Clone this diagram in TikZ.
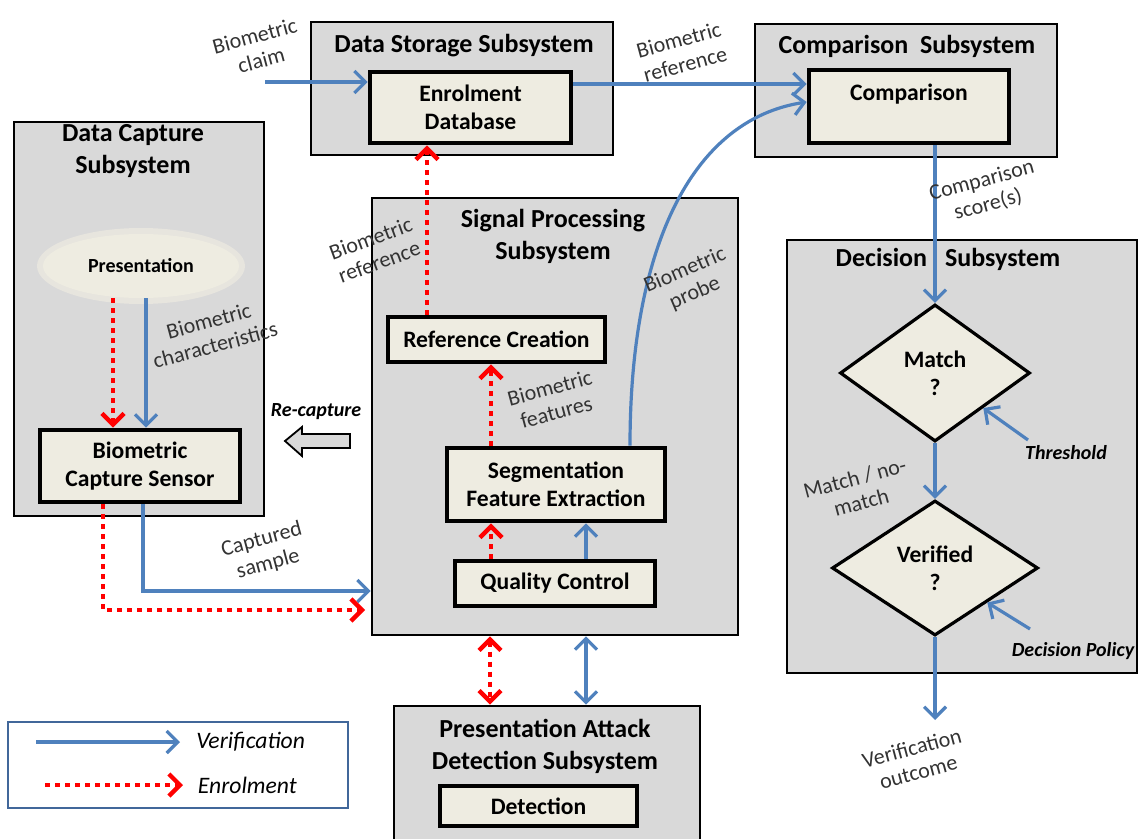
\documentclass[tikz,border=0pt]{standalone}
\usepackage{fontspec}
\setmainfont{Carlito}
\setsansfont{Carlito}
\usetikzlibrary{arrows.meta,shapes.geometric,positioning}

\definecolor{sysgray}{HTML}{D9D9D9}
\definecolor{boxbeige}{HTML}{EEECE1}
\definecolor{verblue}{HTML}{4F81BD}
\definecolor{legendframe}{HTML}{41679A}

\newcommand{\subsystem}[6]{
	\node[subsys, minimum width=#3, minimum height=#4] (#1) at (#2) {};
	\node[systitle] (#1title) at (#5) {#6};
}

\tikzset{
	barb/.tip={Straight Barb[length=5.5pt,width=11pt]},
	subsys/.style={draw=black, line width=1.3pt, fill=sysgray, inner sep=0pt},
	systitle/.style={font=\fontsize{13}{16}\selectfont\bfseries, align=center},
	unit/.style={draw=black, line width=2.4pt, fill=boxbeige, inner sep=0pt, font=\fontsize{11.8}{14}\selectfont\bfseries, align=center},
	decide/.style={diamond, draw=black, line width=1.6pt, fill=boxbeige, inner sep=0pt, font=\fontsize{11.8}{14}\selectfont\bfseries, align=center},
	ver/.style={draw=verblue, line width=1.6pt, -barb},
	enr/.style={draw=red, line width=2.2pt, dash pattern=on 2.5pt off 2.5pt, -barb},
	flowlbl/.style={font=\fontsize{11}{12.5}\selectfont, text=black!80, align=center, rotate=15, inner sep=0pt},
	cue/.style={font=\fontsize{10}{11}\selectfont\bfseries\itshape, inner sep=0pt},
}

\begin{document}
\begin{tikzpicture}[x=0.5pt,y=-0.5pt]
	\useasboundingbox (0,0) rectangle (1140,839);

	\subsystem{store}{462,88.5}{151pt}{66.5pt}{464,46}{Data Storage Subsystem}
	\subsystem{cmpsys}{906,90.5}{151pt}{66.5pt}{907,46}{Comparison\ \ Subsystem}
	\subsystem{capture}{139,319}{125pt}{197pt}{133,151}{Data Capture\\Subsystem}
	\subsystem{sigproc}{555,416.5}{183pt}{218.5pt}{553,236}{Signal Processing\\Subsystem}
	\subsystem{decision}{962,456.5}{175pt}{216.5pt}{948,259}{Decision\hspace{9pt}Subsystem}
	\subsystem{pad}{547,778}{153pt}{72pt}{545,746}{Presentation Attack\\Detection Subsystem}

	\node[unit, minimum width=100.5pt, minimum height=35.5pt] (enrol) at (470.5,107.5) {Enrolment\\Database};
	\node[unit, minimum width=100pt, minimum height=36.5pt] (cmpbox) at (909,106.5) {Comparison\\\mbox{}};
	\node[ellipse, fill=boxbeige!65!sysgray, minimum width=104pt, minimum height=38pt] (glow) at (141,266) {};
	\node[ellipse, fill=boxbeige, minimum width=98pt, minimum height=32pt, font=\fontsize{10}{12}\selectfont\bfseries] (pres) at (141,266) {Presentation};
	\node[unit, minimum width=100pt, minimum height=36pt] (sensor) at (140,466) {Biometric\\Capture Sensor};
	\node[unit, minimum width=108.5pt, minimum height=22.5pt] (refcr) at (496.5,339.5) {Reference Creation};
	\node[unit, minimum width=109pt, minimum height=36.5pt] (segfe) at (556,484.5) {Segmentation\\Feature Extraction};
	\node[unit, minimum width=100pt, minimum height=22.5pt] (qc) at (555,583.5) {Quality Control};
	\node[unit, minimum width=98.5pt, minimum height=20pt] (detect) at (538.5,806) {Detection};
	\node[decide, minimum width=95pt, minimum height=68.5pt] (match) at (935,373) {Match\\?};
	\node[decide, minimum width=103pt, minimum height=67.5pt] (verified) at (935,568) {Verified\\?};

	\coordinate (claim) at (265,82);
	\draw[ver] (claim) -- (claim -| enrol.west);
	\draw[ver] (enrol.east |- 0,84) -- (cmpbox.west |- 0,84);
	\draw[ver] (segfe.north -| 630,0) .. controls (630,250) and (690,120) .. (cmpbox.west |- 0,102);
	\draw[enr] (refcr.north -| 427,0) -- (enrol.south -| 427,0);
	\draw[enr] ([xshift=-14pt]pres.south) -- (sensor.north -| 113,0);
	\draw[ver] ([xshift=2.5pt]pres.south) -- (sensor.north -| 146,0);
	\draw[ver] (sensor.south -| 143,0) |- (sigproc.west |- 0,591);
	\draw[enr] (sensor.south -| 103,0) |- (365,610);
	\draw[enr] (qc.north -| 491,0) -- (segfe.south -| 491,0);
	\draw[ver] (qc.north -| 586,0) -- (segfe.south -| 586,0);
	\draw[enr] (segfe.north -| 491,0) -- (refcr.south -| 491,0);
	\draw[enr, barb-barb] (sigproc.south -| 490,0) -- (pad.north -| 490,0);
	\draw[ver, barb-barb] (sigproc.south -| 586,0) -- (pad.north -| 586,0);
	\draw[ver] (cmpbox.south -| match.north) -- (match.north);
	\draw[ver] (match.south) -- (verified.north);
	\coordinate (thr) at (1028,440);
	\draw[ver] (thr) -- (match.south east);
	\coordinate (pol) at (1030,629);
	\draw[ver] (pol) -- (verified.south east);
	\coordinate (outcome) at (935,720);
	\draw[ver] (verified.south) -- (outcome);

	\draw[fill=sysgray, line width=0.9pt] (285,441) -- (302,427) -- (302,434) -- (350,434) -- (350,448) -- (302,448) -- (302,456) -- cycle;
	\node[cue] (recap) at (316,412) {Re-capture};
	\node[cue] (thrlbl) at (1066,453) {Threshold};
	\node[cue] (pollbl) at (1073,651) {Decision Policy};

	\node[flowlbl] (claimlbl) at (258,48) {Biometric\\claim};
	\node[flowlbl] (reflbl) at (682,52) {Biometric\\reference};
	\node[flowlbl, rotate=5] (reflbl2) at (375,250) {Biometric\\reference};
	\node[flowlbl] (charlbl) at (212,333) {Biometric\\characteristics};
	\node[flowlbl] (samplbl) at (265,552) {Captured\\sample};
	\node[flowlbl] (featlbl) at (553,400) {Biometric\\features};
	\node[flowlbl, rotate=8] (probelbl) at (690,282) {Biometric\\probe};
	\node[flowlbl] (scorelbl) at (985,193) {Comparison\\score(s)};
	\node[flowlbl] (mnmlbl) at (858,490) {Match / no-\\match};
	\node[flowlbl] (outlbl) at (915,760) {Verification\\outcome};

	\node[draw=legendframe, line width=1pt, minimum width=170pt, minimum height=43pt] (legend) at (178,765) {};
	\coordinate (legv) at (36,742);
	\coordinate (lege) at (45,785);
	\draw[ver] (legv) -- ++(144,0) node[right=4pt, font=\fontsize{11.8}{13}\selectfont\itshape, text=black] {Verification};
	\draw[enr] (lege) -- ++(138,0) node[right=3pt, font=\fontsize{11.8}{13}\selectfont\itshape, text=black] {Enrolment};
\end{tikzpicture}
\end{document}
